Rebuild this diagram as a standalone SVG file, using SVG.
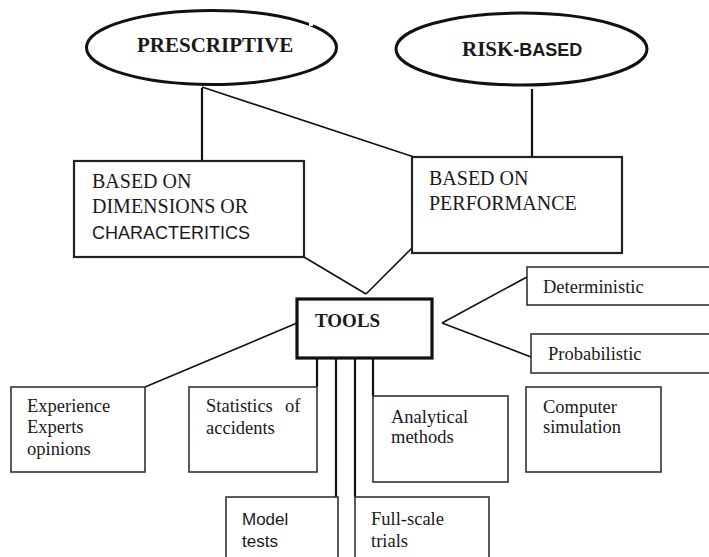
<svg xmlns="http://www.w3.org/2000/svg" width="709" height="557" viewBox="0 0 709 557">
<style>
.ell{fill:#fff;stroke:#111;stroke-width:3}
.big{fill:#fff;stroke:#222;stroke-width:2.2}
.sm{fill:#fff;stroke:#333;stroke-width:1.6}
.tool{fill:#fff;stroke:#111;stroke-width:3.2}
.ln{stroke:#111;stroke-width:1.6;fill:none}
.lt{stroke:#111;stroke-width:2.2;fill:none}
.serif{font-family:"Liberation Serif","Times New Roman",serif;fill:#1a1a1a}
.sans{font-family:"Liberation Sans",Arial,sans-serif;fill:#1a1a1a}
.hd{font-size:20px}
.bd{font-size:18.5px}
</style>
<rect width="709" height="557" fill="#fff"/>
<g id="connectors">
<line class="lt" x1="202" y1="88" x2="202" y2="161"/>
<line class="ln" x1="202" y1="87" x2="414" y2="157"/>
<line class="lt" x1="532" y1="89" x2="532" y2="157"/>
<line class="ln" x1="304" y1="257" x2="366" y2="294"/>
<line class="ln" x1="412" y1="248" x2="366" y2="294"/>
<line class="ln" x1="442" y1="323" x2="527" y2="277"/>
<line class="ln" x1="442" y1="323" x2="531" y2="357"/>
<line class="ln" x1="297" y1="323" x2="145" y2="387"/>
<line class="lt" x1="317" y1="358" x2="317" y2="387"/>
<line class="lt" x1="336" y1="358" x2="336" y2="497"/>
<line class="lt" x1="355" y1="358" x2="355" y2="497"/>
<line class="lt" x1="373" y1="358" x2="373" y2="396"/>
</g>
<g id="prescriptive">
<ellipse class="ell" cx="211.5" cy="47.5" rx="125" ry="37"/>
<rect x="309" y="20" width="4" height="6" fill="#fff"/>
<text class="serif" x="137" y="52" font-size="21" font-weight="bold">PRESCRIPTIVE</text>
</g>
<g id="risk-based">
<ellipse class="ell" cx="521.5" cy="49" rx="125.5" ry="36"/>
<text x="462" y="56" font-weight="bold"><tspan class="serif" font-size="21">RISK</tspan><tspan class="sans" font-size="18">-BASED</tspan></text>
</g>
<g id="dimensions">
<rect class="big" x="74" y="161" width="230" height="96"/>
<text class="serif hd" x="92" y="188">BASED ON</text>
<text class="serif hd" x="92" y="213">DIMENSIONS OR</text>
<text class="sans" x="92" y="239" font-size="18">CHARACTERITICS</text>
</g>
<g id="performance">
<rect class="big" x="412" y="157" width="210" height="96"/>
<text class="serif hd" x="429" y="185">BASED ON</text>
<text class="serif hd" x="429" y="210">PERFORMANCE</text>
</g>
<g id="tools">
<rect class="tool" x="297" y="299" width="135" height="59"/>
<text class="serif" x="315" y="327" font-size="19" font-weight="bold">TOOLS</text>
</g>
<g id="deterministic">
<rect class="sm" x="527" y="267" width="200" height="38"/>
<text class="serif bd" x="543" y="293">Deterministic</text>
</g>
<g id="probabilistic">
<rect class="sm" x="531" y="334" width="200" height="39"/>
<text class="serif bd" x="548" y="360">Probabilistic</text>
</g>
<g id="experience">
<rect class="sm" x="11" y="387" width="134" height="85"/>
<text class="serif bd" x="27" y="412">Experience</text>
<text class="serif bd" x="27" y="433">Experts</text>
<text class="serif bd" x="27" y="455">opinions</text>
</g>
<g id="statistics">
<rect class="sm" x="189" y="387" width="128" height="85"/>
<text class="serif bd" x="206" y="412">Statistics <tspan x="285">of</tspan></text>
<text class="serif bd" x="206" y="434">accidents</text>
</g>
<g id="analytical">
<rect class="sm" x="373" y="396" width="135" height="86"/>
<text class="serif bd" x="391" y="423">Analytical</text>
<text class="serif bd" x="391" y="443">methods</text>
</g>
<g id="computer">
<rect class="sm" x="526" y="387" width="135" height="85"/>
<text class="serif bd" x="543" y="413">Computer</text>
<text class="serif bd" x="543" y="433">simulation</text>
</g>
<g id="model">
<rect class="sm" x="226" y="497" width="112" height="80"/>
<text class="sans" x="242" y="525" font-size="17">Model</text>
<text class="sans" x="242" y="547" font-size="17">tests</text>
</g>
<g id="fullscale">
<rect class="sm" x="355" y="497" width="134" height="80"/>
<text class="serif bd" x="371" y="525">Full-scale</text>
<text class="serif bd" x="371" y="547">trials</text>
</g>
</svg>
